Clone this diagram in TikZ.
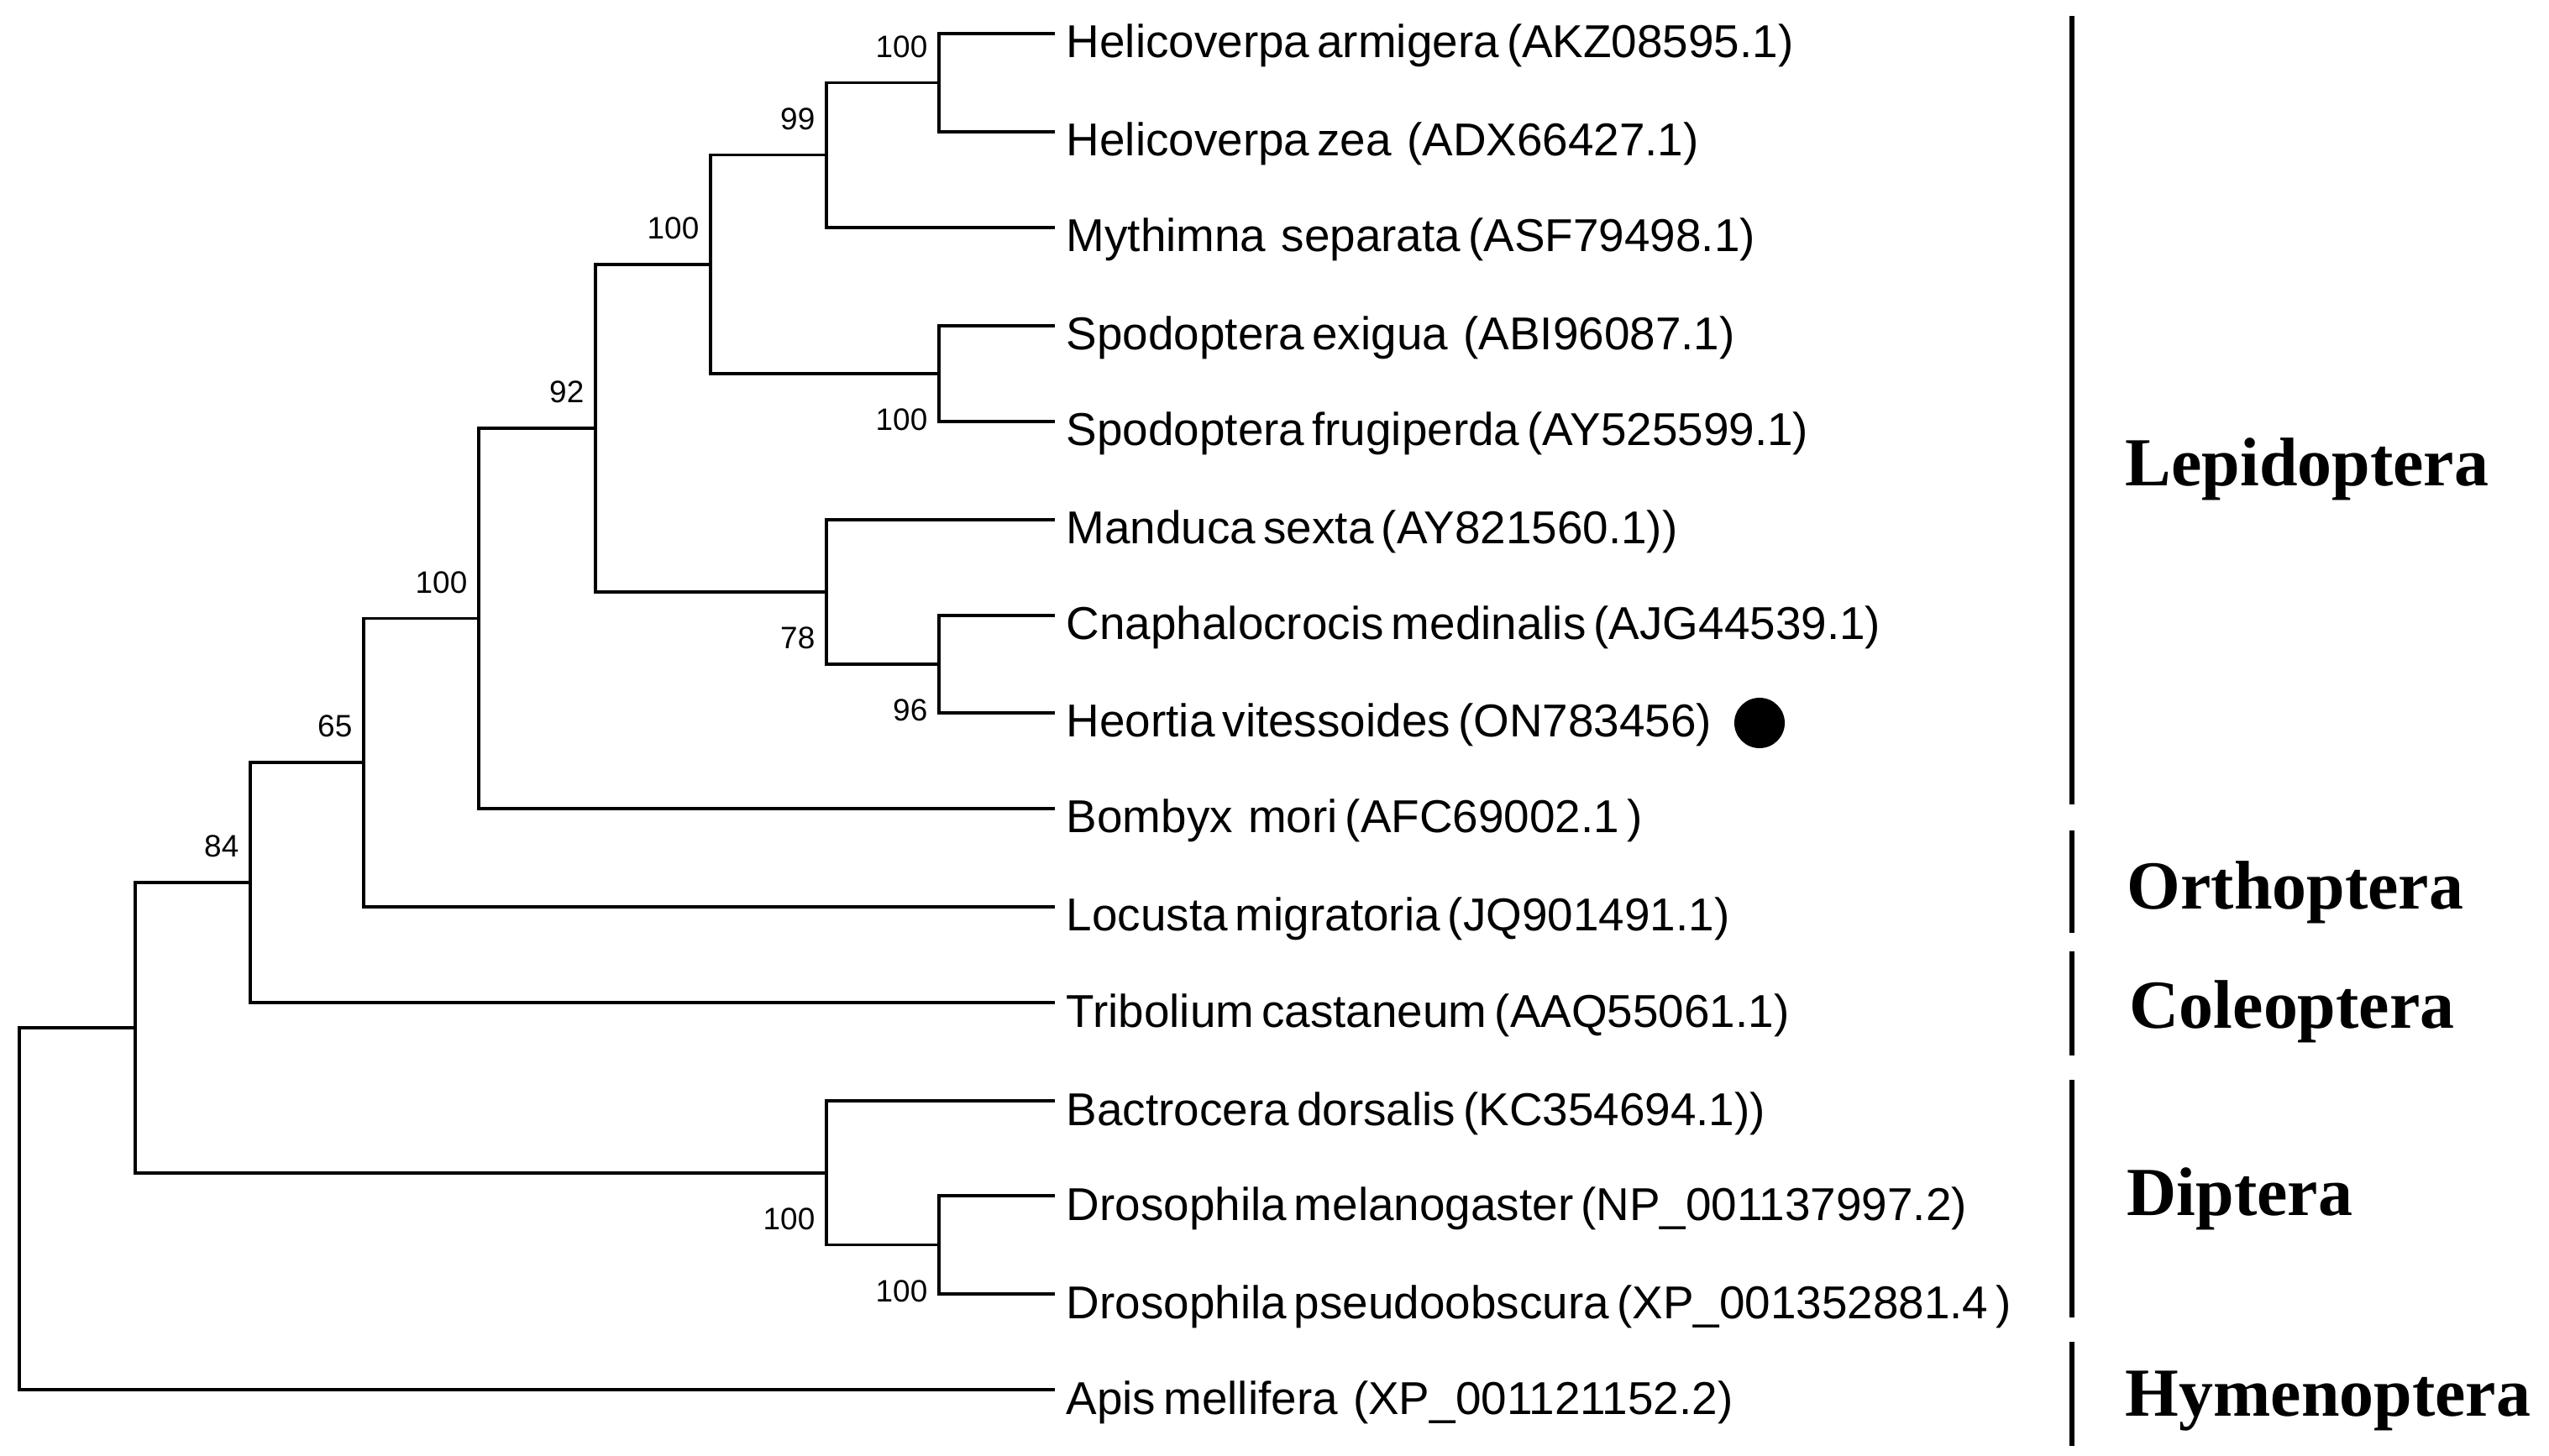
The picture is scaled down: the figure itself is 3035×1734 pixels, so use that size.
\documentclass[tikz,border=0pt]{standalone}
\usepackage{fontspec}
\setmainfont{Liberation Sans}
\newfontfamily\taxfont{Liberation Sans}[WordSpace=0.6]
\newfontfamily\grpfont{Liberation Serif}
\usetikzlibrary{calc}
\begin{document}
\begin{tikzpicture}[x=0.01cm,y=-0.01cm,
  branch/.style={line width=0.035cm, line join=miter},
  taxon/.style={anchor=base west, inner sep=0pt, font=\taxfont\fontsize{15.6pt}{18pt}\selectfont},
  boot/.style={anchor=east, inner sep=0pt, font=\fontsize{10.5pt}{12pt}\selectfont},
  grp/.style={anchor=base west, inner sep=0pt, font=\grpfont\bfseries\fontsize{23.3pt}{28pt}\selectfont},
  orderbar/.style={line width=0.06cm}]
\fill[white] (0,0) rectangle (3035,1734);
\useasboundingbox (0,0) rectangle (3035,1734);
% leaf ends
\coordinate (t0) at (1256,40);
\coordinate (t1) at (1256,157);
\coordinate (t2) at (1256,271);
\coordinate (t3) at (1256,388);
\coordinate (t4) at (1256,502);
\coordinate (t5) at (1256,619);
\coordinate (t6) at (1256,733);
\coordinate (t7) at (1256,849);
\coordinate (t8) at (1256,963);
\coordinate (t9) at (1256,1080);
\coordinate (t10) at (1256,1194);
\coordinate (t11) at (1256,1311);
\coordinate (t12) at (1256,1424);
\coordinate (t13) at (1256,1541);
\coordinate (t14) at (1256,1655);
% internal nodes
\coordinate (H) at (1118,98.5);
\coordinate (G) at (984,184.75);
\coordinate (S) at (1118,445);
\coordinate (F) at (846,314.9);
\coordinate (CH) at (1118,791);
\coordinate (M) at (984,705);
\coordinate (E) at (709,509.9);
\coordinate (D) at (570,736.5);
\coordinate (C) at (433,908.2);
\coordinate (B) at (298,1051.1);
\coordinate (Dro) at (1118,1482.5);
\coordinate (Dip) at (984,1396.75);
\coordinate (A) at (161,1223.9);
\coordinate (R) at (23,1439.5);
% branches
\draw[branch] (t0) -| (H) |- (t1);
\draw[branch] (H) -| (G) |- (t2);
\draw[branch] (t3) -| (S) |- (t4);
\draw[branch] (G) -| (F) |- (S);
\draw[branch] (t6) -| (CH) |- (t7);
\draw[branch] (t5) -| (M) |- (CH);
\draw[branch] (F) -| (E) |- (M);
\draw[branch] (E) -| (D) |- (t8);
\draw[branch] (D) -| (C) |- (t9);
\draw[branch] (C) -| (B) |- (t10);
\draw[branch] (t12) -| (Dro) |- (t13);
\draw[branch] (t11) -| (Dip) |- (Dro);
\draw[branch] (B) -| (A) |- (Dip);
\draw[branch] (A) -| (R) |- (t14);
% bootstrap values
\node[boot] (bH) at ($(H)+(-13,-43)$) {100};
\node[boot] (bG) at ($(G)+(-13,-43)$) {99};
\node[boot] (bF) at ($(F)+(-13,-43)$) {100};
\node[boot] (bE) at ($(E)+(-13,-43)$) {92};
\node[boot] (bD) at ($(D)+(-13,-43)$) {100};
\node[boot] (bC) at ($(C)+(-13,-43)$) {65};
\node[boot] (bB) at ($(B)+(-13,-43)$) {84};
\node[boot] (bS) at ($(S)+(-13,55)$) {100};
\node[boot] (bM) at ($(M)+(-13,55)$) {78};
\node[boot] (bCH) at ($(CH)+(-13,55)$) {96};
\node[boot] (bDip) at ($(Dip)+(-13,55)$) {100};
\node[boot] (bDro) at ($(Dro)+(-13,55)$) {100};
% taxa
\node[taxon] (n0) at ($(t0)+(13,29)$) {Helicoverpa armigera (AKZ08595.1)};
\node[taxon] (n1) at ($(t1)+(13,29)$) {Helicoverpa zea~ (ADX66427.1)};
\node[taxon] (n2) at ($(t2)+(13,29)$) {Mythimna~ separata (ASF79498.1)};
\node[taxon] (n3) at ($(t3)+(13,29)$) {Spodoptera exigua~ (ABI96087.1)};
\node[taxon] (n4) at ($(t4)+(13,29)$) {Spodoptera frugiperda (AY525599.1)};
\node[taxon] (n5) at ($(t5)+(13,29)$) {Manduca sexta (AY821560.1))};
\node[taxon] (n6) at ($(t6)+(13,29)$) {Cnaphalocrocis medinalis (AJG44539.1)};
\node[taxon] (n7) at ($(t7)+(13,29)$) {Heortia vitessoides (ON783456)};
\node[taxon] (n8) at ($(t8)+(13,29)$) {Bombyx~ mori (AFC69002.1 )};
\node[taxon] (n9) at ($(t9)+(13,29)$) {Locusta migratoria (JQ901491.1)};
\node[taxon] (n10) at ($(t10)+(13,29)$) {Tribolium castaneum (AAQ55061.1)};
\node[taxon] (n11) at ($(t11)+(13,29)$) {Bactrocera dorsalis (KC354694.1))};
\node[taxon] (n12) at ($(t12)+(13,29)$) {Drosophila melanogaster (NP\_001137997.2)};
\node[taxon] (n13) at ($(t13)+(13,29)$) {Drosophila pseudoobscura (XP\_001352881.4 )};
\node[taxon] (n14) at ($(t14)+(13,29)$) {Apis mellifera~ (XP\_001121152.2)};
\node[circle, fill=black, inner sep=0pt, minimum size=0.6cm] (dot) at (2095,861) {};
% order bars
\draw[orderbar] (2467,19) -- (2467,958);
\draw[orderbar] (2467,989) -- (2467,1111);
\draw[orderbar] (2467,1133) -- (2467,1257);
\draw[orderbar] (2467,1286) -- (2467,1569);
\draw[orderbar] (2467,1598) -- (2467,1722);
% order names
\node[grp] (gL) at (2530,579) {Lepidoptera};
\node[grp] (gO) at (2532,1083) {Orthoptera};
\node[grp] (gC) at (2535,1225) {Coleoptera};
\node[grp] (gD) at (2532,1447) {Diptera};
\node[grp] (gH) at (2530,1686) {Hymenoptera};
\end{tikzpicture}
\end{document}
